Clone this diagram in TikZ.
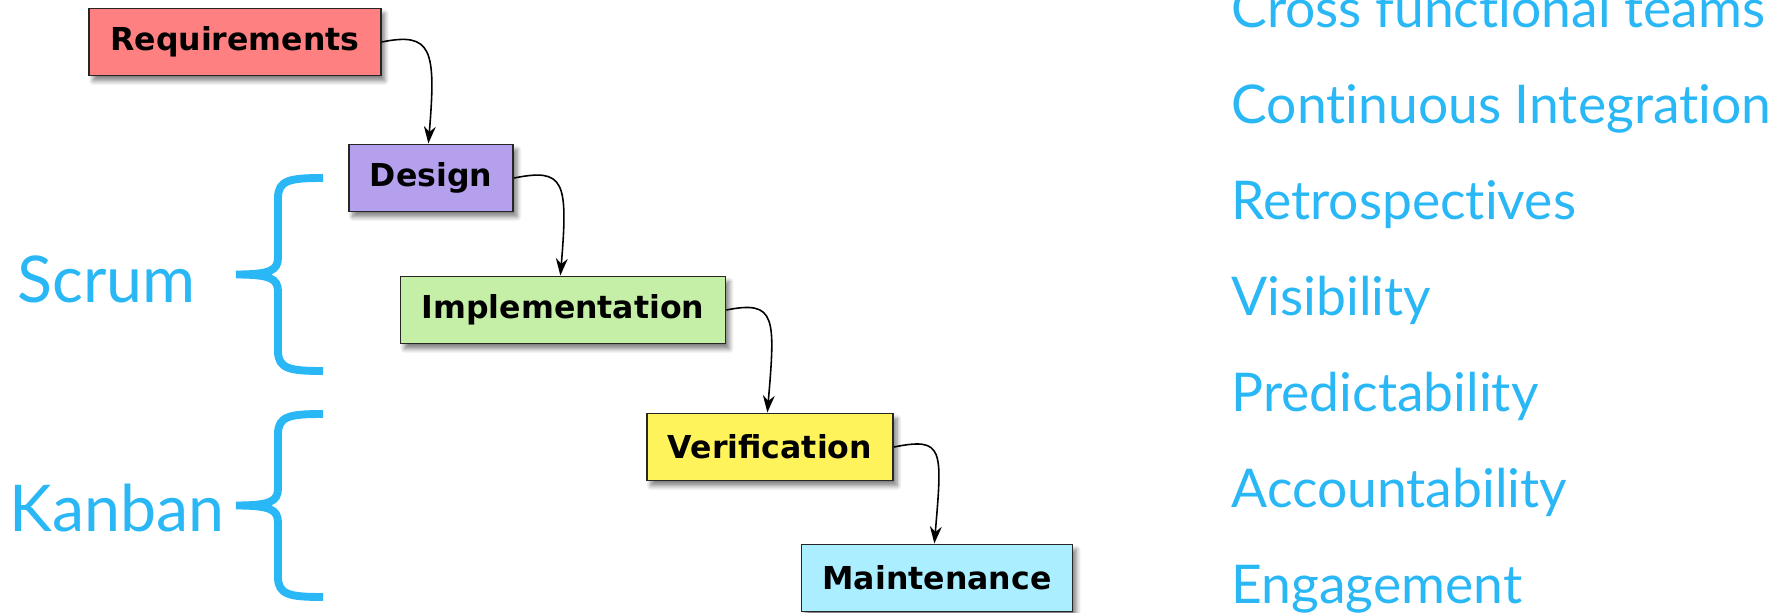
\documentclass[tikz,border=0pt]{standalone}
\usepackage{fontspec}
\usetikzlibrary{arrows.meta}
\usetikzlibrary{shadows.blur}
\newfontfamily\boxfont{DejaVu Sans}
\newfontfamily\listfont{Lato}[Ligatures=NoCommon]
\definecolor{agile}{RGB}{42,183,245}
\definecolor{reqred}{RGB}{255,128,128}
\definecolor{deslila}{RGB}{181,160,238}
\definecolor{impgreen}{RGB}{197,239,166}
\definecolor{veryellow}{RGB}{255,243,92}
\definecolor{maicyan}{RGB}{170,238,255}
\tikzset{
 phase/.style={draw=black!85, line width=0.7pt, minimum height=25.5pt, inner xsep=8pt,
   font=\boxfont\bfseries\fontsize{12}{14}\selectfont,
   blur shadow={shadow xshift=1.5pt, shadow yshift=-2pt, shadow blur steps=6, shadow opacity=50}},
 flow/.style={->, >={Stealth[length=6.5pt,width=4.5pt]}, line width=0.6pt},
 practice/.style={text=agile, font=\listfont\fontsize{20.3}{24}\selectfont, anchor=base west, inner sep=0pt},
 method/.style={text=agile, font=\listfont\fontsize{24.5}{28}\selectfont, anchor=base west, inner sep=0pt},
 curly/.style={draw=agile, line width=3pt}
}

\begin{document}
\begin{tikzpicture} [x=0.38pt, y=-0.38pt]
\useasboundingbox (0,0) rectangle (1777,613);
\clip (0,0) rectangle (1777,613);
% waterfall
\node[phase, fill=reqred] (req) at (235,42) {Requirements};
\node[phase, fill=deslila] (des) at (431,178) {Design};
\node[phase, fill=impgreen] (imp) at (563,310) {Implementation};
\node[phase, fill=veryellow] (ver) at (770,447) {Verification};
\node[phase, fill=maicyan] (mai) at (937,578) {Maintenance};
\foreach \a/\b in {req/des,des/imp,imp/ver,ver/mai} {
 \draw[flow] (\a.east) .. controls +(50,-10) and +(8,-95) .. ([xshift=-1pt]\b.north);
}
% methods
\node[method] (scrum) at (17,303) {Scrum};
\node[method] (kanban) at (9,532) {Kanban};
\foreach \t/\b/\m in {178/371/274.5, 414/597/505.5} {
 \draw[curly] (323,\t) .. controls (290,\t) and (278,\t+2) .. (278,\t+20)
   -- (278,\m-17) .. controls (278,\m-4) and (270,\m) .. (236,\m)
   .. controls (270,\m) and (278,\m+4) .. (278,\m+17)
   -- (278,\b-20) .. controls (278,\b-2) and (290,\b) .. (323,\b);
}
% practices
\foreach \p [count=\i from 0] in {Cross functional teams, Continuous Integration, Retrospectives, Visibility, Predictability, Accountability, Engagement} {
 \node[practice] (p\i) at (1231,28+96*\i) {\p};
}
\end{tikzpicture}
\end{document}
